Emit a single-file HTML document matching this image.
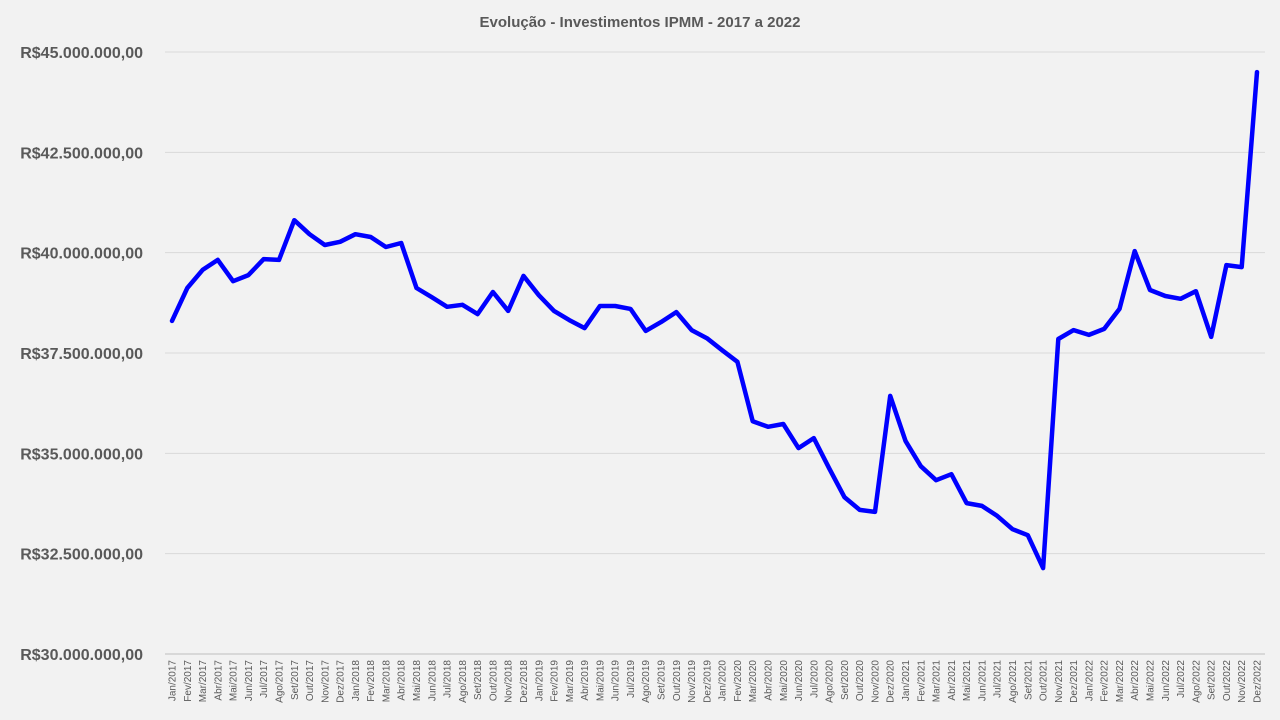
<!DOCTYPE html>
<html><head><meta charset="utf-8"><style>
html,body{margin:0;padding:0;background:#f2f2f2;}
svg{display:block;font-family:"Liberation Sans",sans-serif;}
</style></head><body>
<svg id="chart" width="1280" height="720">
<rect width="1280" height="720" fill="#f2f2f2"/>
<text x="640" y="27" text-anchor="middle" font-size="15" font-weight="bold" fill="#595959">Evolução  - Investimentos IPMM - 2017 a 2022</text>
<g id="grid"></g><g id="ylabels"></g><g id="xlabels"></g><g id="series"></g>
</svg>
<script>
const months = ["Jan","Fev","Mar","Abr","Mai","Jun","Jul","Ago","Set","Out","Nov","Dez"];
const years = [2017,2018,2019,2020,2021,2022];
const yTicks = [30,32.5,35,37.5,40,42.5,45];
const yTickLabels = ["R$30.000.000,00","R$32.500.000,00","R$35.000.000,00","R$37.500.000,00","R$40.000.000,00","R$42.500.000,00","R$45.000.000,00"];
const values = [38.30,39.12,39.57,39.82,39.29,39.44,39.84,39.82,40.81,40.46,40.19,40.27,
40.46,40.39,40.14,40.24,39.12,38.89,38.65,38.70,38.47,39.02,38.55,39.42,
38.94,38.55,38.32,38.12,38.67,38.67,38.60,38.05,38.27,38.52,38.07,37.87,
37.57,37.28,35.80,35.66,35.73,35.13,35.38,34.63,33.91,33.59,33.54,36.43,
35.31,34.68,34.33,34.48,33.76,33.69,33.44,33.11,32.96,32.14,37.85,38.07,
37.95,38.10,38.60,40.04,39.07,38.92,38.85,39.04,37.90,39.69,39.64,44.50];
const categories = [];
years.forEach(y=>months.forEach(m=>categories.push(m+"/"+y)));
const NS="http://www.w3.org/2000/svg";
const yMin=30,yMax=45,top0=52,bot=654,left=165,right=1265;
const yScale=v=>bot-(v-yMin)/(yMax-yMin)*(bot-top0);
const x0=172,x1=1257;
const xScale=i=>x0+i*(x1-x0)/(categories.length-1);
function mk(t,a,p){const e=document.createElementNS(NS,t);for(const k in a)e.setAttribute(k,a[k]);p.appendChild(e);return e;}
const grid=document.getElementById('grid'),yl=document.getElementById('ylabels'),xl=document.getElementById('xlabels'),ser=document.getElementById('series');
yTicks.forEach((t,i)=>{
 const y=yScale(t);
 const l=mk('line',{x1:left,x2:right,y1:y,y2:y,stroke:i==0?'#bfbfbf':'#d9d9d9','stroke-width':1},grid);
 
 
 const tx=mk('text',{x:143,y:y+6,'text-anchor':'end','font-size':16,'font-weight':'bold',fill:'#595959'},yl);
 tx.textContent=yTickLabels[i];
 
 
});
categories.forEach((c,i)=>{
 const x=xScale(i)+3.5;
 const tx=mk('text',{x:0,y:0,transform:`translate(${x},660) rotate(-90)`,'text-anchor':'end','font-size':10,fill:'#595959'},xl);
 tx.textContent=c;
 
 
});
const pts=values.map((v,i)=>xScale(i).toFixed(1)+","+yScale(v).toFixed(1)).join(" ");
const pl=mk('polyline',{points:pts,fill:'none',stroke:'#0000ff','stroke-width':4.5,'stroke-linejoin':'round','stroke-linecap':'round'},ser);


</script>
</body></html>
